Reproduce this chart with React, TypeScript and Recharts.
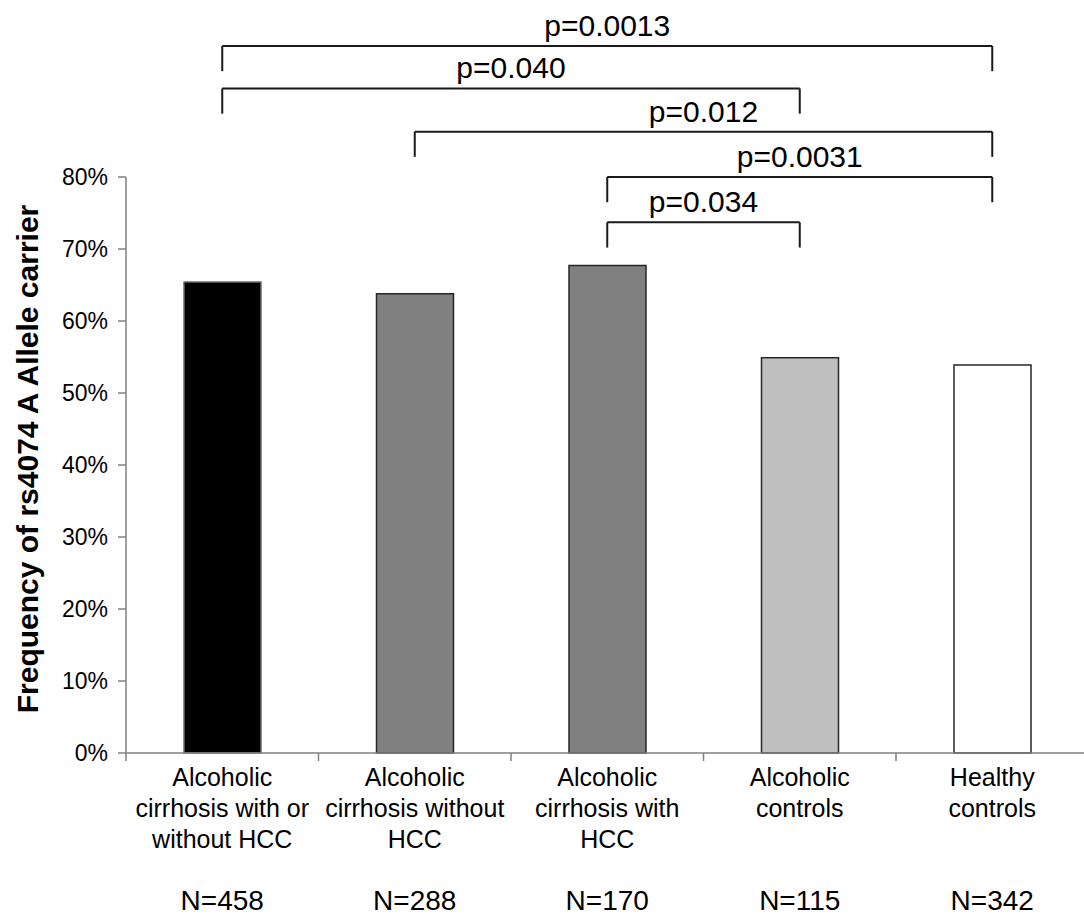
import { BarChart, Bar, XAxis, YAxis, Cell, ReferenceLine } from "recharts";

// groups, left to right
const GROUP_KEYS = ["cirrhosisAll", "cirrhosisNoHcc", "cirrhosisHcc", "alcoholicControls", "healthyControls"];
const GROUP_LINES = [
    ["Alcoholic", "cirrhosis with or", "without HCC"],
    ["Alcoholic", "cirrhosis without", "HCC"],
    ["Alcoholic", "cirrhosis with", "HCC"],
    ["Alcoholic", "controls"],
    ["Healthy", "controls"],
];
const SAMPLE_SIZES = [458, 288, 170, 115, 342];
const CARRIER_FREQ = [0.654, 0.638, 0.677, 0.549, 0.539];
const BAR_FILLS = ["#000000", "#808080", "#808080", "#c0c0c0", "#ffffff"];
const BAR_STROKES = ["#6b6b6b", "#262626", "#262626", "#262626", "#262626"];

const Y_TICKS = [0, 0.1, 0.2, 0.3, 0.4, 0.5, 0.6, 0.7, 0.8];

// significance brackets: group indexes, p label, bracket height (fraction)
const COMPARISONS = [
    { from: 0, to: 4, p: "p=0.0013", level: 0.982 },
    { from: 0, to: 3, p: "p=0.040", level: 0.923 },
    { from: 1, to: 4, p: "p=0.012", level: 0.863 },
    { from: 2, to: 4, p: "p=0.0031", level: 0.8 },
    { from: 2, to: 3, p: "p=0.034", level: 0.737 },
];
const BRACKET_DROP = 0.035;

const FONT = "'Liberation Sans', Arial, Helvetica, sans-serif";
const AXIS_GRAY = "#808080";
const BRACKET_COLOR = "#1a1a1a";

const data = GROUP_KEYS.map((key, i) => ({ key, freq: CARRIER_FREQ[i] }));

// category label + N, plus the tick marks at the group boundaries
function GroupTick({ x, y, payload, index, width, visibleTicksCount }: any) {
    const i = GROUP_KEYS.indexOf(payload.value);
    const lines = GROUP_LINES[i] || [];
    const half = width / (visibleTicksCount || GROUP_KEYS.length) / 2;
    const axisY = y - 10;
    return (
        <g>
            <line x1={x - half} x2={x - half} y1={axisY} y2={axisY + 8} stroke={AXIS_GRAY} strokeWidth={1.5} />
            {index === visibleTicksCount - 1 && (
                <line x1={x + half} x2={x + half} y1={axisY} y2={axisY + 8} stroke={AXIS_GRAY} strokeWidth={1.5} />
            )}
            <text x={x} y={y} textAnchor="middle" fontSize={25} fill="#000">
                {lines.map((l, k) => (
                    <tspan key={k} x={x} dy={k === 0 ? 23 : 31}>
                        {l}
                    </tspan>
                ))}
            </text>
            <text x={x} y={y + 147} textAnchor="middle" fontSize={28} fill="#000">
                N={SAMPLE_SIZES[i]}
            </text>
        </g>
    );
}

function YTitle({ viewBox }: any) {
    if (!viewBox) return null;
    const cx = viewBox.x + 38;
    const cy = viewBox.y + viewBox.height / 2 - 6;
    return (
        <text
            x={cx}
            y={cy}
            transform={`rotate(-90 ${cx} ${cy})`}
            textAnchor="middle"
            fontSize={30}
            fontWeight="bold"
            fill="#000"
        >
            Frequency of rs4074 A Allele carrier
        </text>
    );
}

export default function App() {
    return (
        <div
            style={{
                position: "absolute",
                left: 0,
                top: 0,
                width: 1084,
                height: 915,
                overflow: "hidden",
                background: "#fff",
                fontFamily: FONT,
            }}
        >
            <BarChart
                width={1100}
                height={915}
                data={data}
                margin={{ top: 177, right: 11.5, bottom: 12, left: 0 }}
            >
                <XAxis
                    xAxisId="cat"
                    dataKey="key"
                    height={150}
                    interval={0}
                    tickSize={8}
                    tickMargin={2}
                    tickLine={false}
                    axisLine={{ stroke: AXIS_GRAY, strokeWidth: 1.5 }}
                    tick={<GroupTick />}
                />
                <YAxis
                    width={126}
                    domain={[0, 0.8]}
                    ticks={Y_TICKS}
                    interval={0}
                    tickSize={8}
                    tickMargin={10}
                    tickFormatter={(v: number) => `${Math.round(v * 100)}%`}
                    tick={{ fontSize: 23, fill: "#000" }}
                    axisLine={{ stroke: AXIS_GRAY, strokeWidth: 1.5 }}
                    tickLine={{ stroke: AXIS_GRAY, strokeWidth: 1.5 }}
                    label={<YTitle />}
                />
                <Bar xAxisId="cat" dataKey="freq" barSize={77} isAnimationActive={false}>
                    {data.map((d, i) => (
                        <Cell key={d.key} fill={BAR_FILLS[i]} stroke={BAR_STROKES[i]} strokeWidth={1.5} />
                    ))}
                </Bar>
                {COMPARISONS.map((c) => {
                    const a = GROUP_KEYS[c.from];
                    const b = GROUP_KEYS[c.to];
                    const low = c.level - BRACKET_DROP;
                    return [
                        <ReferenceLine
                            key={c.p + "h"}
                            xAxisId="cat"
                            segment={[{ x: a, y: c.level }, { x: b, y: c.level }]}
                            ifOverflow="visible"
                            stroke={BRACKET_COLOR}
                            strokeWidth={2}
                            label={{ value: c.p, position: "top", offset: 10, fontSize: 30, fill: "#000" }}
                        />,
                        <ReferenceLine
                            key={c.p + "l"}
                            xAxisId="cat"
                            segment={[{ x: a, y: c.level }, { x: a, y: low }]}
                            ifOverflow="visible"
                            stroke={BRACKET_COLOR}
                            strokeWidth={2}
                        />,
                        <ReferenceLine
                            key={c.p + "r"}
                            xAxisId="cat"
                            segment={[{ x: b, y: c.level }, { x: b, y: low }]}
                            ifOverflow="visible"
                            stroke={BRACKET_COLOR}
                            strokeWidth={2}
                        />,
                    ];
                })}
            </BarChart>
        </div>
    );
}
